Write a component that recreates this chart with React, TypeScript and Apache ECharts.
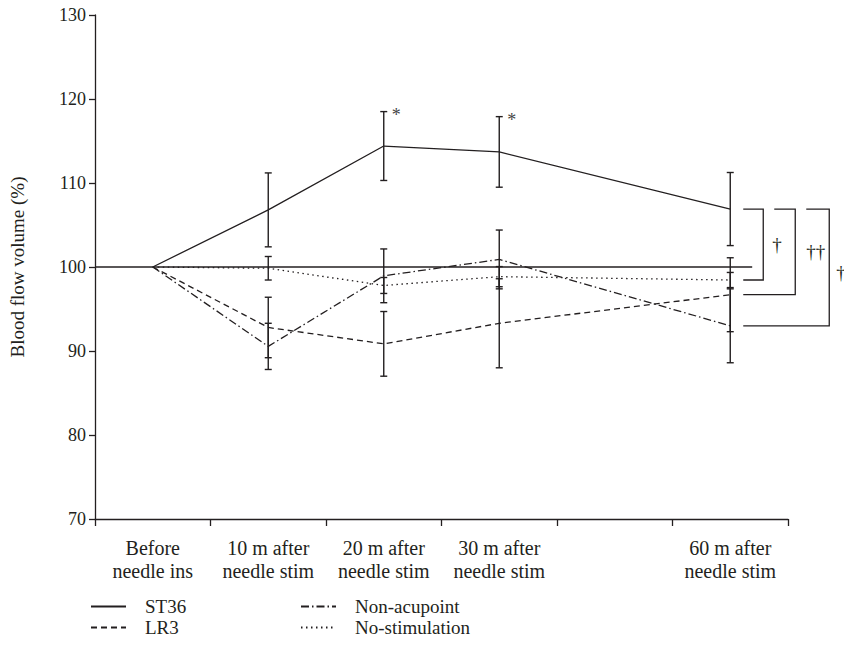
import React, { useEffect, useRef } from "react";
import * as echarts from "echarts";

// ---- data ----
const categories = [
  "Before\nneedle ins",
  "10 m after\nneedle stim",
  "20 m after\nneedle stim",
  "30 m after\nneedle stim",
  "",
  "60 m after\nneedle stim",
];
// category slot of each measurement
const timeSlots = [0, 1, 2, 3, 5];

const st36 = [100, 106.8, 114.4, 113.7, 106.9];
const st36Err = [0, 4.4, 4.1, 4.2, 4.35];

const lr3 = [100, 92.8, 90.85, 93.3, 96.7];
const lr3Err = [0, 3.6, 3.85, 5.3, 4.4];

const nonAcupoint = [100, 90.55, 98.95, 100.9, 93.0];
const nonAcupointErr = [0, 2.75, 3.2, 3.5, 4.4];

const noStim = [100, 99.85, 97.8, 98.85, 98.45];
const noStimErr = [0, 1.4, 0.95, 1.2, 0.9];

const referenceValue = 100;
const referenceEnd = 5.69; // x extent of the 100% reference line (in slot units)

const starredPoints = [2, 3]; // ST36 points marked *
const comparisons = [
  { values: noStim, label: "†" },
  { values: lr3, label: "††" },
  { values: nonAcupoint, label: "††" },
];

const yTicks = { min: 70, max: 130, interval: 10 };

const FONT = "'Liberation Serif', 'DejaVu Serif', serif";
const INK = "#231f20";

const groups = [
  { name: "ST36", values: st36, err: st36Err, dash: "solid" as any },
  { name: "LR3", values: lr3, err: lr3Err, dash: [6, 4] },
  { name: "Non-acupoint", values: nonAcupoint, err: nonAcupointErr, dash: [8, 3, 1.5, 3] },
  { name: "No-stimulation", values: noStim, err: noStimErr, dash: [1.5, 3.5] },
];

const xOf = (i: number) => timeSlots[i] + 0.5;

export default function App() {
  const ref = useRef<HTMLDivElement>(null);

  useEffect(() => {
    if (!ref.current) return;
    const chart = echarts.init(ref.current, undefined, { renderer: "svg" });

    const lineSeries = groups.map((g) => ({
      name: g.name,
      type: "line",
      xAxisIndex: 1,
      yAxisIndex: 0,
      symbol: "none",
      data: g.values.map((v, i) => [xOf(i), v]),
      lineStyle: { color: INK, width: 1.3, type: g.dash },
      itemStyle: { color: INK },
      z: 3,
    }));

    const errSeries = groups.map((g) => ({
      name: g.name + " err",
      type: "custom",
      xAxisIndex: 1,
      yAxisIndex: 0,
      silent: true,
      data: g.values
        .map((v, i) => [xOf(i), v - g.err[i], v + g.err[i], g.err[i]])
        .filter((d) => d[3] > 0),
      encode: { x: 0, y: [1, 2] },
      renderItem: (params: any, api: any) => {
        const x = api.value(0);
        const lo = api.coord([x, api.value(1)]);
        const hi = api.coord([x, api.value(2)]);
        const w = 3.5;
        const style = { stroke: INK, lineWidth: 1.4 };
        return {
          type: "group",
          children: [
            { type: "line", shape: { x1: hi[0], y1: hi[1], x2: lo[0], y2: lo[1] }, style },
            { type: "line", shape: { x1: hi[0] - w, y1: hi[1], x2: hi[0] + w, y2: hi[1] }, style },
            { type: "line", shape: { x1: lo[0] - w, y1: lo[1], x2: lo[0] + w, y2: lo[1] }, style },
          ],
        };
      },
      z: 4,
    }));

    const refSeries = {
      name: "reference",
      type: "line",
      xAxisIndex: 1,
      yAxisIndex: 0,
      symbol: "none",
      silent: true,
      data: [
        [0, referenceValue],
        [referenceEnd, referenceValue],
      ],
      lineStyle: { color: INK, width: 1.4, type: "solid" },
      z: 2,
    };

    const legendText = { fontSize: 19, fontFamily: FONT, color: INK, padding: [0, 0, 0, 14] };
    const legendCommon = {
      orient: "vertical",
      top: 597,
      itemWidth: 35,
      itemHeight: 12,
      itemGap: 2,
      selectedMode: false,
      padding: 0,
      itemStyle: { color: "rgba(0,0,0,0)", borderWidth: 0, opacity: 0 },
      textStyle: legendText,
    };

    chart.setOption({
      animation: false,
      backgroundColor: "#fff",
      textStyle: { fontFamily: FONT, color: INK },
      grid: { left: 95, right: 64, top: 15, bottom: 133, containLabel: false },
      xAxis: [
        {
          type: "category",
          data: categories,
          boundaryGap: true,
          axisLine: { lineStyle: { color: INK, width: 1.3 } },
          axisTick: { show: true, length: 7, interval: 0, lineStyle: { color: INK, width: 1.3 } },
          axisLabel: {
            interval: 0,
            fontSize: 20,
            lineHeight: 23,
            color: INK,
            fontFamily: FONT,
            margin: 17,
          },
        },
        { type: "value", min: 0, max: 6, show: false },
      ],
      yAxis: {
        type: "value",
        min: yTicks.min,
        max: yTicks.max,
        interval: yTicks.interval,
        name: "Blood flow volume (%)",
        nameLocation: "middle",
        nameGap: 68,
        nameRotate: 90,
        nameTextStyle: { fontSize: 19, fontFamily: FONT, color: INK },
        axisLine: { show: true, lineStyle: { color: INK, width: 1.3 } },
        axisTick: { show: true, length: 6, lineStyle: { color: INK, width: 1.3 } },
        axisLabel: { fontSize: 18, color: INK, fontFamily: FONT, margin: 9 },
        splitLine: { show: false },
      },
      legend: [
        { ...legendCommon, data: ["ST36", "LR3"], left: 90 },
        { ...legendCommon, data: ["Non-acupoint", "No-stimulation"], left: 300 },
      ],
      series: [refSeries, ...lineSeries, ...errSeries],
    });

    // annotations positioned through the axes' scales
    const toPx = (x: number, y: number) =>
      chart.convertToPixel({ xAxisIndex: 1, yAxisIndex: 0 }, [x, y]) as number[];

    const graphics: any[] = [];
    starredPoints.forEach((i) => {
      const p = toPx(xOf(i), st36[i] + st36Err[i]);
      graphics.push({
        type: "text",
        x: p[0] + 8,
        y: p[1] - 6,
        style: { text: "*", fontSize: 18, fontFamily: FONT, fill: "#444" },
      });
    });

    const last = st36.length - 1;
    const top = toPx(xOf(last), st36[last]);
    const startOff = 13;
    const topStarts = [13, 44, 76];
    const rights = [33, 65, 99];
    const labelOff = [42, 76, 106];
    comparisons.forEach((c, k) => {
      const b = toPx(xOf(last), c.values[last]);
      graphics.push({
        type: "polyline",
        shape: {
          points: [
            [top[0] + topStarts[k], top[1]],
            [top[0] + rights[k], top[1]],
            [top[0] + rights[k], b[1]],
            [top[0] + startOff, b[1]],
          ],
        },
        style: { stroke: INK, lineWidth: 1.3, fill: null },
      });
      graphics.push({
        type: "text",
        x: top[0] + labelOff[k],
        y: (top[1] + b[1]) / 2 - 10 + (k === 2 ? 6 : 0),
        style: { text: c.label, fontSize: 19, fontFamily: FONT, fill: INK },
      });
    });

    chart.setOption({ graphic: graphics });

    return () => chart.dispose();
  }, []);

  return <div ref={ref} style={{ width: 852, height: 652, margin: -8 }} />;
}
